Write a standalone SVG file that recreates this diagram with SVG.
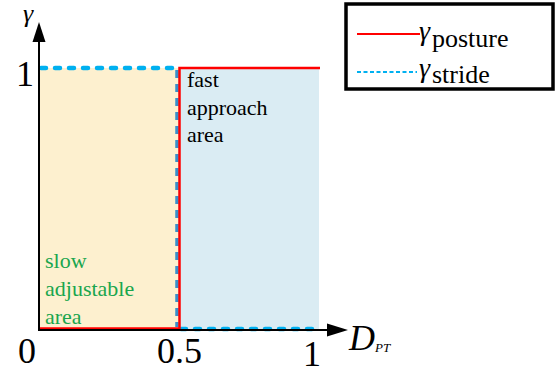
<svg xmlns="http://www.w3.org/2000/svg" width="558" height="374" viewBox="0 0 558 374">
<style>
text{font-family:"Liberation Serif","Times New Roman","DejaVu Serif",serif;}
.num{font-size:36px;fill:#000;}
.area{font-size:22px;}
.cyan{fill:none;stroke:#00b0f0;stroke-width:4.5;stroke-linecap:round;stroke-dasharray:5 9;}
.red{fill:none;stroke:#ff0000;stroke-width:2.5;}
.axis{stroke:#000;stroke-width:2;fill:none;}
</style>
<g id="regions">
<rect id="slow-region" x="39" y="68" width="139" height="262" fill="#fdf0cf"/>
<rect id="fast-region" x="178" y="68" width="141" height="262" fill="#daecf3"/>
</g>
<g id="connectors">
<path class="cyan" d="M41 68 H177"/>
<path d="M177 70 V327" fill="none" stroke="#3a8fca" stroke-width="3.5" stroke-dasharray="8 6"/>
<path class="cyan" d="M181 329 H318"/>
<path class="red" d="M39 328.5 H179.5 V68 H320"/>
<path class="axis" d="M39 331 V40"/>
<polygon points="39,22 32.5,42 45.5,42" fill="#000"/>
<path class="axis" d="M38 330 H330"/>
<polygon points="348,330 327,323.5 327,336.5" fill="#000"/>
</g>
<g id="labels">
<text x="23" y="22" font-size="26" font-style="italic">γ</text>
<text class="num" x="16" y="86">1</text>
<text class="num" x="18" y="363">0</text>
<text class="num" x="157" y="363">0.5</text>
<text class="num" x="303" y="366">1</text>
<text x="349" y="350" font-size="36" font-style="italic">D<tspan font-size="13" dy="2">PT</tspan></text>
</g>
<g id="fast-area-label" fill="#000">
<text class="area" x="187" y="87">fast</text>
<text class="area" x="187" y="114.5">approach</text>
<text class="area" x="187" y="142">area</text>
</g>
<g id="slow-area-label" fill="#1aa64e">
<text class="area" x="45" y="268">slow</text>
<text class="area" x="45" y="296">adjustable</text>
<text class="area" x="45" y="324">area</text>
</g>
<g id="legend">
<rect x="346" y="4" width="207" height="85" fill="#fff" stroke="#000" stroke-width="3.5"/>
<line x1="357" y1="34" x2="420" y2="34" stroke="#ff0000" stroke-width="2"/>
<line x1="357" y1="72" x2="417" y2="72" stroke="#00b0f0" stroke-width="2" stroke-dasharray="4 2.5"/>
<text x="419" y="40" font-size="28" font-style="italic">γ</text>
<text x="432" y="47" font-size="26">posture</text>
<text x="419" y="77" font-size="28" font-style="italic">γ</text>
<text x="432" y="83" font-size="26">stride</text>
</g>
</svg>
